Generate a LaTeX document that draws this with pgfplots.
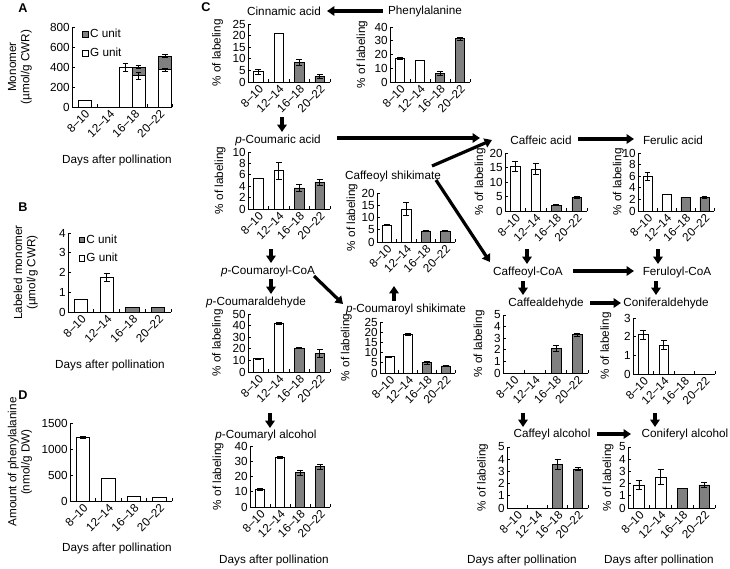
\documentclass[border=0pt]{standalone}
\usepackage{fontspec}
\setmainfont{Liberation Sans}
\usepackage{pgfplots}
\pgfplotsset{compat=1.18}
\usetikzlibrary{arrows.meta}
\newcommand{\fs}{\fontsize{8.8}{10}\selectfont}
\newcommand{\px}{0.75pt}
\newcommand{\Tx}[3]{\node[font=\fs,inner sep=0pt] at ({#1*\px},{-#2*\px}) {#3};}
\newcommand{\Arr}[4]{\draw[line width=2.4pt,-{Triangle[length=5.5pt,width=7pt]}] ({#1*\px},{-#2*\px}) -- ({#3*\px},{-#4*\px});}

\pgfplotsset{
  lab/.style={
    scale only axis, anchor=north west,
    ybar, bar width=0.48,
    axis lines*=left,
    axis line style={black, line width=0.6pt, -},
    xmin=0.5, xmax=4.5, ymin=0,
    xtick={1.5,2.5,3.5,4.5}, xticklabels={,,,},
    extra x ticks={1,2,3,4},
    extra x tick labels={8--10,12--14,16--18,20--22},
    extra x tick style={major tick length=0pt},
    xticklabel style={rotate=45, anchor=north east, inner sep=1pt},
    tick align=inside, major tick length=2.5pt,
    tick style={black, line width=0.5pt},
    tick label style={font=\fs},
    yticklabel style={inner sep=1.5pt},
    label style={font=\fs},
    ylabel style={anchor=center, align=center},
    /pgf/number format/assume math mode=true,
    /pgf/number format/1000 sep={},
  },
  leg/.style={
    legend cell align=left,
    legend style={draw=none, fill=none, anchor=north west, font=\fs,
      inner sep=0pt, row sep=4pt, nodes={inner sep=1pt}},
    legend image code/.code={\draw[##1, line width=0.5pt] (0pt,-2.2pt) rectangle (4.4pt,2.2pt);},
  },
  wb/.style={draw=black, fill=white, line width=0.5pt, bar shift=0pt, mark=none,
    error bars/y dir=both, error bars/y explicit,
    error bars/error bar style={black, line width=0.5pt},
    error bars/error mark options={black, rotate=90, mark size=2.2pt, line width=0.5pt}},
  gb/.style={wb, fill=black!50},
}

\begin{document}
\begin{tikzpicture}
\useasboundingbox (0,0) rectangle (547.5pt,-426pt);

% panel letters
\node[font=\fontsize{9.5}{11}\selectfont\bfseries] at (23*\px,-8*\px) {A};
\node[font=\fontsize{9.5}{11}\selectfont\bfseries] at (23*\px,-207*\px) {B};
\node[font=\fontsize{9.5}{11}\selectfont\bfseries] at (23*\px,-395*\px) {D};
\node[font=\fontsize{9.5}{11}\selectfont\bfseries] at (206*\px,-7*\px) {C};

% A (bars sit where the reference draws them)
\begin{axis}[lab, leg, at={(72*\px,-27*\px)}, width=100*\px, height=80*\px,
  ymax=800, ytick={0,200,...,800}, bar width=0.52,
  ylabel={Monomer\\(µmol/g CWR)}, ylabel style={at={(axis description cs:-0.52,0.5)}},
  legend style={at={(0.1,0.99)}}]
\addplot[gb] coordinates {(3.16,400) +- (0,15) (4.22,510) +- (0,15)};
\addlegendentry{C unit}
\addplot[wb] coordinates {(1.02,65) +- (0,0) (2.64,400) +- (0,40) (3.16,315) +- (0,35) (4.22,375) +- (0,15)};
\addlegendentry{G unit}
\end{axis}
\Tx{117}{160}{Days after pollination}

% B
\begin{axis}[lab, leg, at={(68*\px,-233*\px)}, width=103*\px, height=79*\px,
  ymax=4, ytick={0,1,...,4}, bar width=0.52,
  ylabel={Labeled monomer\\(µmol/g CWR)}, ylabel style={at={(axis description cs:-0.41,0.5)}},
  legend style={at={(0.1,1.0)}}]
\addplot[gb] coordinates {(3,0.22) +- (0,0) (4,0.22) +- (0,0)};
\addlegendentry{C unit}
\addplot[wb] coordinates {(1,0.62) +- (0,0) (2,1.75) +- (0,0.2)};
\addlegendentry{G unit}
\end{axis}
\Tx{110}{365}{Days after pollination}

% D
\begin{axis}[lab, at={(70*\px,-423*\px)}, width=102*\px, height=78*\px,
  ymax=1500, ytick={0,500,1000,1500}, bar width=0.52,
  ylabel={Amount of phenylalanine\\(nmol/g DW)}, ylabel style={at={(axis description cs:-0.49,0.5)}}]
\addplot[wb] coordinates {(1,1230) +- (0,20) (2,440) +- (0,0) (3,90) +- (0,0) (4,75) +- (0,0)};
\end{axis}
\Tx{117}{548}{Days after pollination}

% C: Cinnamic acid
\begin{axis}[lab, at={(248*\px,-24*\px)}, width=82*\px, height=58*\px,
  ymax=25, ytick={0,5,...,25},
  ylabel={\% of labeling}, ylabel style={at={(axis description cs:-0.37,0.5)}}]
\addplot[wb] coordinates {(1,4.5) +- (0,1) (2,20.8) +- (0,0)};
\addplot[gb] coordinates {(3,8.5) +- (0,1.2) (4,2.5) +- (0,1)};
\end{axis}
\Tx{284}{11}{Cinnamic acid}

% Phenylalanine
\begin{axis}[lab, at={(390*\px,-27*\px)}, width=80*\px, height=55*\px,
  ymax=40, ytick={0,10,...,40},
  ylabel={\% of labeling}, ylabel style={at={(axis description cs:-0.35,0.5)}}]
\addplot[wb] coordinates {(1,17) +- (0,0.8) (2,16) +- (0,0)};
\addplot[gb] coordinates {(3,6) +- (0,1.5) (4,31.5) +- (0,1)};
\end{axis}
\Tx{425}{11}{Phenylalanine}

% p-Coumaric acid
\begin{axis}[lab, at={(248*\px,-152*\px)}, width=82*\px, height=57*\px,
  ymax=10, ytick={0,2,...,10},
  ylabel={\% of labeling}, ylabel style={at={(axis description cs:-0.34,0.5)}}]
\addplot[wb] coordinates {(1,5.3) +- (0,0) (2,6.7) +- (0,1.5)};
\addplot[gb] coordinates {(3,3.7) +- (0,0.6) (4,4.7) +- (0,0.5)};
\end{axis}
\Tx{278}{140}{\textit{p}-Coumaric acid}

% Caffeoyl shikimate
\begin{axis}[lab, at={(377*\px,-193*\px)}, width=78*\px, height=49*\px,
  ymax=20, ytick={0,5,...,20},
  ylabel={\% of labeling}, ylabel style={at={(axis description cs:-0.32,0.5)}}]
\addplot[wb] coordinates {(1,7) +- (0,0.2) (2,13.5) +- (0,2.5)};
\addplot[gb] coordinates {(3,4.5) +- (0,0.3) (4,4.5) +- (0,0.3)};
\end{axis}
\Tx{393}{176}{Caffeoyl shikimate}

% Caffeic acid
\begin{axis}[lab, at={(505*\px,-153*\px)}, width=82*\px, height=58*\px,
  ymax=20, ytick={0,5,...,20},
  ylabel={\% of labeling}, ylabel style={at={(axis description cs:-0.305,0.5)}}]
\addplot[wb] coordinates {(1,15.5) +- (0,1.8) (2,14.5) +- (0,2)};
\addplot[gb] coordinates {(3,2) +- (0,0.2) (4,4.7) +- (0,0.2)};
\end{axis}
\Tx{541}{140}{Caffeic acid}

% Ferulic acid
\begin{axis}[lab, at={(638*\px,-153*\px)}, width=76*\px, height=58*\px,
  ymax=10, ytick={0,2,...,10},
  ylabel={\% of labeling}, ylabel style={at={(axis description cs:-0.26,0.5)}}]
\addplot[wb] coordinates {(1,6) +- (0,0.7) (2,2.8) +- (0,0)};
\addplot[gb] coordinates {(3,2.4) +- (0,0) (4,2.4) +- (0,0.2)};
\end{axis}
\Tx{673}{140}{Ferulic acid}

% p-Coumaraldehyde
\begin{axis}[lab, at={(248*\px,-314*\px)}, width=82*\px, height=58*\px,
  ymax=50, ytick={0,10,...,50},
  ylabel={\% of labeling}, ylabel style={at={(axis description cs:-0.37,0.5)}}]
\addplot[wb] coordinates {(1,11.5) +- (0,0.5) (2,42) +- (0,0.5)};
\addplot[gb] coordinates {(3,20.5) +- (0,0.5) (4,16) +- (0,3.5)};
\end{axis}
\Tx{256}{302}{\textit{p}-Coumaraldehyde}

% p-Coumaroyl shikimate
\begin{axis}[lab, at={(380*\px,-322*\px)}, width=75*\px, height=51*\px,
  ymax=25, ytick={0,5,...,25},
  ylabel={\% of labeling}, ylabel style={at={(axis description cs:-0.45,0.5)}}]
\addplot[wb] coordinates {(1,8) +- (0,0.3) (2,19) +- (0,0.5)};
\addplot[gb] coordinates {(3,5) +- (0,0.6) (4,3.5) +- (0,0.3)};
\end{axis}
\Tx{406}{309}{\textit{p}-Coumaroyl shikimate}

% Caffealdehyde
\begin{axis}[lab, at={(503*\px,-315*\px)}, width=85*\px, height=58*\px,
  ymax=5, ytick={0,1,...,5},
  ylabel={\% of labeling}, ylabel style={at={(axis description cs:-0.28,0.5)}}]
\addplot[gb] coordinates {(3,2.1) +- (0,0.25) (4,3.3) +- (0,0.1)};
\end{axis}
\Tx{546}{303}{Caffealdehyde}

% Coniferaldehyde
\begin{axis}[lab, at={(633*\px,-318*\px)}, width=82*\px, height=56*\px,
  ymax=3, ytick={0,1,2,3},
  ylabel={\% of labeling}, ylabel style={at={(axis description cs:-0.33,0.5)}}]
\addplot[wb] coordinates {(1,2.1) +- (0,0.25) (2,1.55) +- (0,0.25)};
\end{axis}
\Tx{666}{303}{Coniferaldehyde}

% p-Coumaryl alcohol
\begin{axis}[lab, at={(250*\px,-446*\px)}, width=80*\px, height=61*\px,
  ymax=40, ytick={0,10,...,40},
  ylabel={\% of labeling}, ylabel style={at={(axis description cs:-0.4,0.5)}}]
\addplot[wb] coordinates {(1,11.5) +- (0,0.5) (2,32.5) +- (0,0.5)};
\addplot[gb] coordinates {(3,22.5) +- (0,1.5) (4,26.5) +- (0,1.5)};
\end{axis}
\Tx{266}{435}{\textit{p}-Coumaryl alcohol}
\Tx{274}{560}{Days after pollination}

% Caffeyl alcohol
\begin{axis}[lab, at={(507*\px,-447*\px)}, width=81*\px, height=61*\px,
  ymax=5, ytick={0,1,...,5},
  ylabel={\% of labeling}, ylabel style={at={(axis description cs:-0.3,0.5)}}]
\addplot[gb] coordinates {(3,3.6) +- (0,0.4) (4,3.2) +- (0,0.15)};
\end{axis}
\Tx{552}{434}{Caffeyl alcohol}
\Tx{522}{560}{Days after pollination}

% Coniferyl alcohol
\begin{axis}[lab, at={(628*\px,-447*\px)}, width=87*\px, height=61*\px,
  ymax=5, ytick={0,1,...,5},
  ylabel={\% of labeling}, ylabel style={at={(axis description cs:-0.23,0.5)}}]
\addplot[wb] coordinates {(1,1.9) +- (0,0.4) (2,2.55) +- (0,0.6)};
\addplot[gb] coordinates {(3,1.6) +- (0,0) (4,1.9) +- (0,0.2)};
\end{axis}
\Tx{685}{434}{Coniferyl alcohol}
\Tx{659}{560}{Days after pollination}

% other compound names
\Tx{268}{271}{\textit{p}-Coumaroyl-CoA}
\Tx{528}{272}{Caffeoyl-CoA}
\Tx{677}{272}{Feruloyl-CoA}

% pathway arrows
\Arr{383}{11}{327}{11}
\Arr{282}{117}{282}{132}
\Arr{337}{138}{480}{138}
\Arr{578}{139}{634}{139}
\Arr{432}{166}{492}{140}
\Arr{436}{180}{490}{262}
\Arr{527}{249}{527}{264}
\Arr{658}{249}{658}{264}
\Arr{573}{271}{634}{271}
\Arr{523}{281}{523}{295}
\Arr{656}{281}{656}{295}
\Arr{590}{303}{621}{303}
\Arr{523}{413}{523}{427}
\Arr{655}{413}{655}{427}
\Arr{597}{434}{631}{434}
\Arr{271}{249}{271}{263}
\Arr{271}{279}{271}{294}
\Arr{314}{276}{343}{304}
\Arr{394}{301}{394}{286}
\Arr{270}{413}{270}{428}
\end{tikzpicture}
\end{document}
